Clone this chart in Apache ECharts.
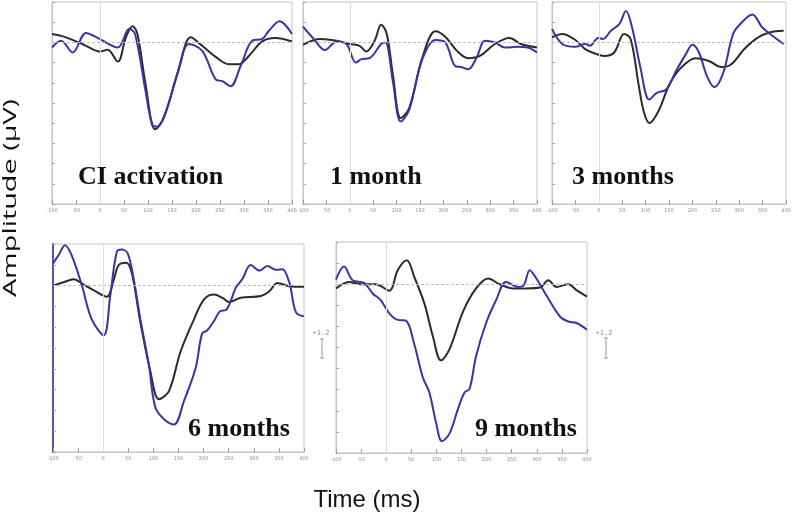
<!DOCTYPE html>
<html>
<head>
<meta charset="utf-8">
<script src="https://cdn.jsdelivr.net/npm/echarts@6/dist/echarts.min.js"></script>
<style>html,body{margin:0;padding:0;background:#fff;}#c{width:800px;height:529px;}</style>
</head>
<body>
<div id="c"></div>
<script>
// ---- data (time in ms, amplitude in tick units) ----
const xTicks = [-100, -50, 0, 50, 100, 150, 200, 250, 300, 350, 400];
const panelNames = ['CI activation', '1 month', '3 months', '6 months', '9 months'];

const ciBlackT = [-100,-77,-50,-29,-1,16,37,54,68,78,95,115,134,165,189,213,241,268,289,310,338,365,400];
const ciBlackY = [0.42,0.30,0.05,-0.17,-0.45,-0.37,-0.95,0.25,0.80,0.42,-2.08,-4.30,-3.67,-1.25,0.25,-0.17,-0.72,-1.08,-1.08,-0.67,0.05,0.22,0.05];
const ciBlueT = [-100,-81,-57,-29,-1,37,61,73,95,109,120,137,161,185,213,241,255,272,293,317,338,352,374,400];
const ciBlueY = [-0.25,0.08,-0.5,0.47,0.17,-0.25,0.67,0.42,-2.42,-4.08,-4.17,-3.42,-1.58,-0.08,-0.42,-1.83,-1.92,-2.17,-1.17,0.08,0.17,0.58,1.05,0.42];

const m1BlackT = [-100,-63,-28,0,21,35,53,67,79,92,109,127,155,183,204,229,253,278,310,341,366,400];
const m1BlackY = [-0.12,0.17,0.08,-0.08,-0.17,-0.45,0.08,0.87,0.42,-1.58,-3.75,-3.25,-0.75,0.55,0.28,-0.42,-0.78,-0.67,-0.08,0.22,-0.08,-0.25];
const m1BlueT = [-100,-77,-53,-28,-7,13,25,42,67,76,92,109,127,155,183,204,225,238,253,271,289,310,331,359,380,400];
const m1BlueY = [0.78,0.17,-0.38,0.05,-0.08,-1.0,-0.83,-0.78,-0.08,0.0,-1.92,-3.92,-3.33,-0.83,0.12,0.0,-1.17,-1.22,-1.33,-0.75,0.08,0.0,-0.25,-0.22,-0.25,-0.5];

const m3BlackT = [-100,-78,-50,-29,-8,12,33,54,68,85,96,108,127,151,176,207,235,262,283,311,339,366,395];
const m3BlackY = [0.25,0.42,0.12,-0.33,-0.55,-0.67,-0.5,0.42,0.17,-2.08,-3.42,-4.0,-3.42,-2.08,-1.25,-0.78,-0.92,-1.22,-1.08,-0.33,0.22,0.5,0.58];
const m3BlueT = [-100,-78,-50,-29,-19,-1,9,26,44,58,71,89,108,124,144,165,186,200,214,231,247,266,287,304,328,349,366,395];
const m3BlueY = [0.67,-0.08,-0.22,-0.08,-0.17,0.22,0.17,0.58,0.92,1.55,0.75,-1.25,-2.83,-2.5,-2.33,-1.42,-0.58,-0.12,-0.5,-1.67,-2.22,-1.5,0.42,0.95,1.38,0.75,0.42,-0.08];

const m6BlackT = [-100,-79,-59,-39,-16,7,21,31,46,57,74,94,111,131,154,181,201,221,237,251,274,314,331,347,371,400];
const m6BlackY = [0,0.16,0.31,0.05,-0.27,-0.54,0.28,0.99,1.1,0.6,-1.76,-4.13,-5.46,-5.07,-3.18,-1.61,-0.66,-0.43,-0.58,-0.79,-0.58,-0.5,-0.27,0.13,-0.03,-0.06];
const m6BlueT = [-100,-89,-76,-63,-43,-23,1,14,27,37,49,61,74,91,104,124,141,161,184,197,207,221,234,244,254,264,277,294,311,327,344,357,371,384,400];
const m6BlueY = [1.07,1.46,1.94,1.46,0.05,-1.61,-2.39,-0.5,1.62,1.73,1.54,0.28,-1.61,-3.81,-5.86,-6.49,-6.68,-5.54,-3.97,-2.31,-2.16,-1.69,-1.21,-1.18,-0.74,-0.11,0.31,0.99,0.72,0.94,0.76,0.79,0.13,-1.29,-1.48];

const m9BlackT = [-100,-74,-51,-21,6,23,41,56,76,93,109,126,153,179,203,226,253,279,306,323,339,363,379,400];
const m9BlackY = [-0.2,0.11,0,0,-0.31,0.66,1.13,0.34,-0.91,-2.47,-3.61,-3.09,-1.3,-0.2,0.27,0,-0.2,-0.2,-0.16,0.19,-0.13,0,-0.28,-0.59];
const m9BlueT = [-100,-84,-67,-44,-27,-11,6,23,39,56,73,86,99,111,126,143,156,166,179,199,219,239,263,274,286,299,319,346,363,379,400];
const m9BlueY = [0.22,0.84,0.19,0.06,-0.44,-0.75,-1.38,-1.69,-1.72,-2.86,-4.42,-5.13,-6.53,-7.44,-7.08,-5.91,-5.13,-4.97,-3.41,-1.84,-0.75,0.11,-0.13,-0.05,0.66,0.27,-0.52,-1.53,-1.77,-1.84,-2.16];

const blackT = [ciBlackT, m1BlackT, m3BlackT, m6BlackT, m9BlackT];
const blackY = [ciBlackY, m1BlackY, m3BlackY, m6BlackY, m9BlackY];
const blueT = [ciBlueT, m1BlueT, m3BlueT, m6BlueT, m9BlueT];
const blueY = [ciBlueY, m1BlueY, m3BlueY, m6BlueY, m9BlueY];

// ---- layout ----
const grids = [
  {left: 52, top: 2, width: 240, height: 202},
  {left: 303, top: 2, width: 234, height: 202},
  {left: 552, top: 2, width: 234, height: 202},
  {left: 53, top: 244, width: 251, height: 208},
  {left: 336, top: 242, width: 251, height: 211}
];
const labelPos = [
  {left: 78, top: 164}, {left: 330, top: 164}, {left: 572, top: 164},
  {left: 188, top: 416}, {left: 475, top: 416}
];

const BLACK = '#2b2b2b';
const BLUE = '#3b33a3';

function zip(t, y) { return t.map((v, i) => [v, y[i]]); }

const option = {
  backgroundColor: '#fff',
  animation: false,
  title: panelNames.map((n, i) => ({
    text: n, left: labelPos[i].left, top: labelPos[i].top, padding: 0,
    textStyle: {fontFamily: 'Liberation Serif', fontWeight: 'bold', fontSize: 26, color: '#111'}
  })),
  grid: grids.map(g => Object.assign({show: true, borderColor: '#c4c4c4', borderWidth: 1, backgroundColor: '#fff'}, g)),
  xAxis: grids.map((g, i) => ({
    gridIndex: i, type: 'value', min: -100, max: 400, interval: 50,
    axisLine: {show: true, onZero: false, lineStyle: {color: '#c4c4c4'}},
    axisTick: {show: true, inside: true, length: 4, lineStyle: {color: '#9a9a9a'}},
    axisLabel: {fontSize: 5, color: '#8a8a8a', margin: 4, fontFamily: 'DejaVu Sans'},
    splitLine: {show: false}
  })),
  yAxis: grids.map((g, i) => ({
    gridIndex: i, type: 'value', min: -8, max: 2, interval: 1,
    axisLine: {show: true, onZero: false, lineStyle: {color: i === 3 ? '#5a50b5' : '#c4c4c4', width: i === 3 ? 2 : 1}},
    axisTick: {show: true, inside: true, length: 3, lineStyle: {color: '#a8a8a8'}},
    axisLabel: {show: false},
    splitLine: {show: false}
  })),
  series: []
};

for (let i = 0; i < 5; i++) {
  option.series.push({
    type: 'line', xAxisIndex: i, yAxisIndex: i, data: zip(blackT[i], blackY[i]),
    smooth: 0.35, showSymbol: false, lineStyle: {color: BLACK, width: 2}, z: 3,
    markLine: {
      silent: true, symbol: 'none', label: {show: false}, animation: false,
      data: [
        {yAxis: 0, lineStyle: {color: '#bdbdbd', type: [3, 2], width: 1}},
        {xAxis: 0, lineStyle: {color: '#dcdcdc', type: 'solid', width: 1}}
      ]
    }
  });
  option.series.push({
    type: 'line', xAxisIndex: i, yAxisIndex: i, data: zip(blueT[i], blueY[i]),
    smooth: 0.35, showSymbol: false, lineStyle: {color: BLUE, width: 2}, z: 4
  });
}

option.graphic = [
  {type: 'text', x: 11, y: 198, rotation: Math.PI / 2, scaleX: 1.6,
   style: {text: 'Amplitude (µV)', font: '18px "Open Sans"', fill: '#111', align: 'center', verticalAlign: 'middle'}},
  {type: 'text', x: 367, y: 500,
   style: {text: 'Time (ms)', font: '24px "Liberation Sans"', fill: '#111', align: 'center', verticalAlign: 'middle'}},
  {type: 'text', x: 321, y: 333, style: {text: '+1.2', font: '7px "DejaVu Sans Mono"', fill: '#888', align: 'center', verticalAlign: 'middle'}},
  {type: 'line', shape: {x1: 322, y1: 339, x2: 322, y2: 358}, style: {stroke: '#999', lineWidth: 1}},
  {type: 'line', shape: {x1: 320, y1: 339, x2: 324, y2: 339}, style: {stroke: '#999', lineWidth: 1}},
  {type: 'line', shape: {x1: 320, y1: 358, x2: 324, y2: 358}, style: {stroke: '#999', lineWidth: 1}},
  {type: 'text', x: 604, y: 333, style: {text: '+1.2', font: '7px "DejaVu Sans Mono"', fill: '#888', align: 'center', verticalAlign: 'middle'}},
  {type: 'line', shape: {x1: 606, y1: 338, x2: 606, y2: 358}, style: {stroke: '#999', lineWidth: 1}},
  {type: 'line', shape: {x1: 604, y1: 338, x2: 608, y2: 338}, style: {stroke: '#999', lineWidth: 1}},
  {type: 'line', shape: {x1: 604, y1: 358, x2: 608, y2: 358}, style: {stroke: '#999', lineWidth: 1}}
];

const chart = echarts.init(document.getElementById('c'), null, {renderer: 'canvas'});
chart.setOption(option);
</script>
</body>
</html>
